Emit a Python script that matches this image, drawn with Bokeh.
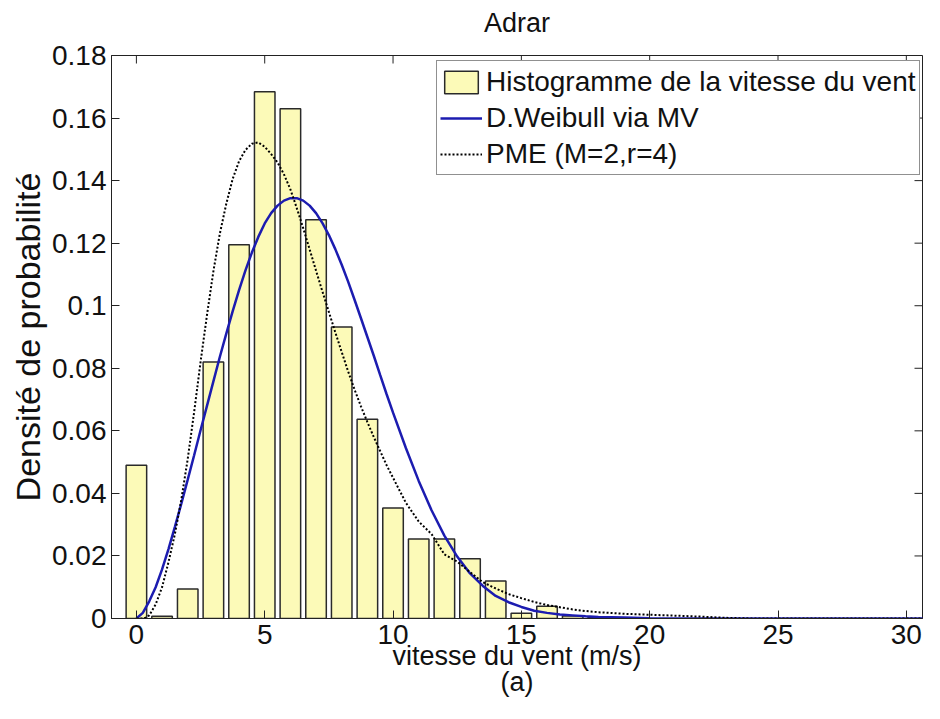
from bokeh.plotting import figure
from bokeh.models import FixedTicker, Range1d, Legend, LegendItem, LinearAxis
from bokeh.embed import file_html
from bokeh.resources import INLINE

# ---- data ----
bin_centers = [0, 1, 2, 3, 4, 5, 6, 7, 8, 9, 10, 11, 12, 13, 14, 15, 16, 17, 18, 19]
hist_density = [0.049, 0.0007, 0.0094, 0.082, 0.1195, 0.1684, 0.1630, 0.1275, 0.0932,
                0.0637, 0.0353, 0.0254, 0.0254, 0.0191, 0.0120, 0.0017, 0.0039, 0.0008,
                0.0003, 0.0002]

weib_x = [0, 0.25, 0.5, 0.75, 1.0, 1.25, 1.5, 1.75, 2.0, 2.25, 2.5, 2.75, 3.0, 3.25, 3.5,
          3.75, 4.0, 4.25, 4.5, 4.75, 5.0, 5.25, 5.5, 5.75, 6.0, 6.25, 6.5, 6.75, 7.0,
          7.25, 7.5, 7.75, 8.0, 8.25, 8.5, 8.75, 9.0, 9.25, 9.5, 9.75, 10.0, 10.5, 11.0,
          11.5, 12.0, 12.5, 13.0, 13.5, 14.0, 14.5, 15.0, 15.5, 16.0, 16.5, 17.0, 17.5,
          18.0, 19.0, 20.0, 25.0, 31.0]
weib_y = [0.0, 0.0018, 0.0055, 0.0100, 0.0157, 0.0222, 0.0293, 0.0367, 0.0444, 0.0522,
          0.0602, 0.0680, 0.0758, 0.0836, 0.0910, 0.0982, 0.1050, 0.1113, 0.1170, 0.1220,
          0.1263, 0.1296, 0.1320, 0.1336, 0.1344, 0.1344, 0.1336, 0.1320, 0.1296, 0.1264,
          0.1226, 0.1181, 0.1131, 0.1077, 0.1019, 0.0960, 0.0900, 0.0840, 0.0778, 0.0717,
          0.0658, 0.0545, 0.0440, 0.0346, 0.0265, 0.0198, 0.0144, 0.0104, 0.0072, 0.0052,
          0.0037, 0.0025, 0.0018, 0.0013, 0.0010, 0.0007, 0.0005, 0.0003, 0.0001, 0.0,
          0.0]

pme_x = [0, 0.3, 0.5, 0.75, 1.0, 1.25, 1.5, 1.75, 2.0, 2.25, 2.5, 2.75, 3.0, 3.25, 3.5,
         3.75, 4.0, 4.25, 4.5, 4.75, 5.0, 5.25, 5.5, 5.75, 6.0, 6.25, 6.5, 6.75, 7.0,
         7.25, 7.5, 7.75, 8.0, 8.25, 8.5, 8.75, 9.0, 9.25, 9.5, 9.75, 10.0, 10.5, 11.0,
         11.5, 12.0, 12.5, 13.0, 13.5, 14.0, 14.5, 15.0, 15.5, 16.0, 16.5, 17.0, 17.5,
         18.0, 19.0, 20.0, 21.0, 22.0, 23.0, 24.0, 31.0]
pme_y = [0.0, 0.0, 0.001, 0.0045, 0.010, 0.018, 0.027, 0.038, 0.051, 0.066, 0.082, 0.097,
         0.111, 0.123, 0.1325, 0.1405, 0.1462, 0.1498, 0.1518, 0.1522, 0.1508, 0.1485,
         0.1458, 0.1420, 0.1372, 0.1312, 0.1248, 0.1180, 0.1112, 0.1045, 0.0980, 0.0915,
         0.0852, 0.0790, 0.0732, 0.0678, 0.0628, 0.0580, 0.0535, 0.0490, 0.0450, 0.037,
         0.031, 0.027, 0.0205, 0.0182, 0.0148, 0.0116, 0.0096, 0.0078, 0.0065, 0.0053,
         0.0043, 0.0036, 0.0029, 0.0024, 0.0020, 0.0015, 0.0012, 0.0009, 0.0006, 0.0002,
         0.0, 0.0]

x_ticks = [0, 5, 10, 15, 20, 25, 30]
y_ticks = [0, 0.02, 0.04, 0.06, 0.08, 0.10, 0.12, 0.14, 0.16, 0.18]
y_tick_labels = ["0", "0.02", "0.04", "0.06", "0.08", "0.1", "0.12", "0.14", "0.16", "0.18"]

title_text = "Adrar"
x_label = "vitesse du vent (m/s)"
y_label = "Densité de probabilité"
sub_label = "(a)"
legend_labels = ["Histogramme de la vitesse du vent", "D.Weibull via MV", "PME (M=2,r=4)"]

FONT = "Liberation Sans"
FS = "27px"
TICK_FS = "28px"
INK = "#111111"
EDGE = "#222222"

W, H = 924, 703
BL, BR, BT, BB = 111, 2, 55, 85
X0, X1 = -0.97, 30.63
Y0, Y1 = 0, 0.18
FRAME_W, FRAME_H = W - BL - BR, H - BT - BB
TICK_PX = 8

p = figure(width=W, height=H, output_backend="svg", toolbar_location=None,
           x_range=Range1d(X0, X1), y_range=Range1d(Y0, Y1),
           min_border_left=BL, min_border_right=BR, min_border_top=BT, min_border_bottom=BB)
p.background_fill_color = "white"
p.border_fill_color = "white"
p.outline_line_color = EDGE
p.outline_line_width = 1
p.xgrid.visible = False
p.ygrid.visible = False

bars = p.vbar(x=bin_centers, top=hist_density, width=0.8, bottom=0,
              fill_color="#FCFAB8", line_color="#2a2a2a", line_width=1.5)
wl = p.line(weib_x, weib_y, line_color="#1c1cb0", line_width=2.5)
pl = p.line(pme_x, pme_y, line_color="black", line_width=2, line_dash="2 2")

# inward ticks on the top and right edges (box style), derived from the tick lists
dy = TICK_PX / FRAME_H * (Y1 - Y0)
dx = TICK_PX / FRAME_W * (X1 - X0)
p.segment(x0=x_ticks, y0=[Y1] * len(x_ticks), x1=x_ticks, y1=[Y1 - dy] * len(x_ticks),
          line_color=EDGE, line_width=1)
p.segment(x0=[X1] * len(y_ticks), y0=y_ticks, x1=[X1 - dx] * len(y_ticks), y1=y_ticks,
          line_color=EDGE, line_width=1)

for ax in [p.xaxis[0], p.yaxis[0]]:
    ax.major_tick_in = TICK_PX
    ax.major_tick_out = 0
    ax.minor_tick_line_color = None
    ax.axis_line_color = EDGE
    ax.major_tick_line_color = EDGE
    ax.major_label_text_font = FONT
    ax.major_label_text_font_size = TICK_FS
    ax.major_label_text_color = INK
    ax.axis_label_text_font = FONT
    ax.axis_label_text_font_size = FS
    ax.axis_label_text_font_style = "normal"
    ax.axis_label_text_color = INK

p.xaxis[0].ticker = FixedTicker(ticks=x_ticks)
p.xaxis[0].axis_label = x_label
p.xaxis[0].major_label_standoff = 6
p.xaxis[0].axis_label_standoff = -6
p.yaxis[0].ticker = FixedTicker(ticks=y_ticks)
p.yaxis[0].major_label_overrides = {t: l for t, l in zip(y_ticks, y_tick_labels)}
p.yaxis[0].axis_label = y_label
p.yaxis[0].axis_label_text_font_size = "34px"
p.yaxis[0].major_label_standoff = 5
p.yaxis[0].axis_label_standoff = 2


def caption_axis(text, standoff):
    """An axis without ticks, used only to carry a caption text in a side panel."""
    return LinearAxis(ticker=FixedTicker(ticks=[]), axis_label=text,
                      axis_label_text_font=FONT, axis_label_text_font_size=FS,
                      axis_label_text_font_style="normal", axis_label_text_color=INK,
                      axis_label_standoff=standoff, axis_line_color=None,
                      major_tick_line_color=None, minor_tick_line_color=None,
                      major_tick_in=0, major_tick_out=0, minor_tick_in=0, minor_tick_out=0,
                      major_label_standoff=0)


p.add_layout(caption_axis(title_text, 18), "above")
p.add_layout(caption_axis(sub_label, -7), "below")

legend = Legend(items=[LegendItem(label=legend_labels[0], renderers=[bars]),
                       LegendItem(label=legend_labels[1], renderers=[wl]),
                       LegendItem(label=legend_labels[2], renderers=[pl])],
                location=(325, 443))
legend.label_text_font = FONT
legend.label_text_font_size = "28px"
legend.label_text_color = INK
legend.glyph_width = 42
legend.glyph_height = 28
legend.label_height = 35
legend.label_standoff = 4
legend.spacing = 1
legend.padding = 3
legend.margin = 0
legend.border_line_color = EDGE
legend.border_line_width = 1
legend.background_fill_alpha = 1
p.add_layout(legend, "center")

open("out.html", "w").write(file_html(p, INLINE))
